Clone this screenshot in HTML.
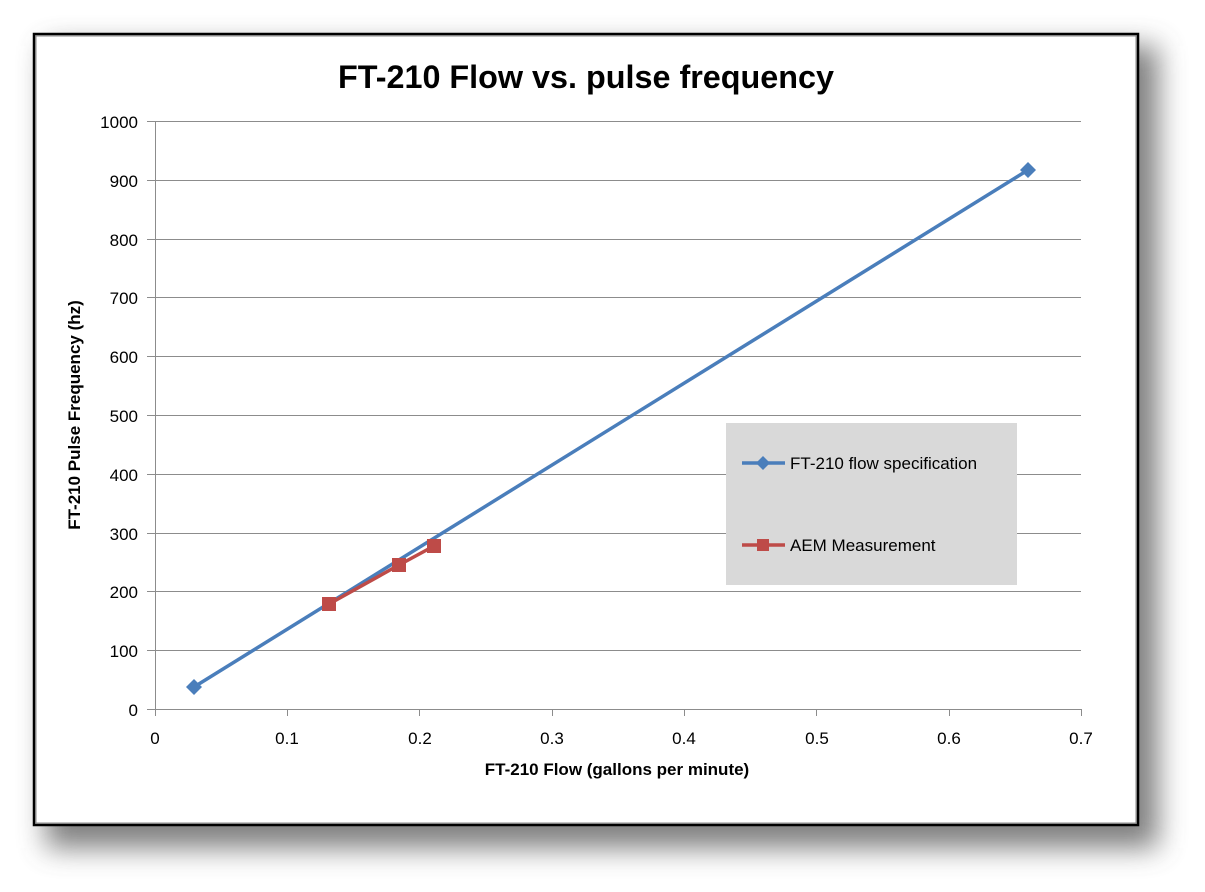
<!DOCTYPE html>
<html><head><style>
body{margin:0;background:#fff;}
svg{display:block;font-family:"Liberation Sans",Calibri,sans-serif;}
</style></head><body>
<svg width="1205" height="892" xmlns="http://www.w3.org/2000/svg">
<defs>
<filter id="sh" x="-10%" y="-10%" width="130%" height="130%"><feGaussianBlur stdDeviation="14"/></filter>
</defs>
<rect x="46" y="46" width="1112" height="802" fill="#555" filter="url(#sh)" opacity="0.75"/>
<rect x="34" y="34" width="1104" height="791" fill="#fff" stroke="#000" stroke-width="2.5"/>
<rect x="36" y="36" width="1100" height="787" fill="none" stroke="#888" stroke-width="1"/>
<text x="586" y="88" font-size="32" font-weight="bold" text-anchor="middle" textLength="496" lengthAdjust="spacingAndGlyphs">FT-210 Flow vs. pulse frequency</text>
<g stroke="#8c8c8c" stroke-width="1">
<line x1="147" y1="121.5" x2="1081" y2="121.5"/>
<line x1="147" y1="180.5" x2="1081" y2="180.5"/>
<line x1="147" y1="239.5" x2="1081" y2="239.5"/>
<line x1="147" y1="297.5" x2="1081" y2="297.5"/>
<line x1="147" y1="356.5" x2="1081" y2="356.5"/>
<line x1="147" y1="415.5" x2="1081" y2="415.5"/>
<line x1="147" y1="474.5" x2="1081" y2="474.5"/>
<line x1="147" y1="533.5" x2="1081" y2="533.5"/>
<line x1="147" y1="591.5" x2="1081" y2="591.5"/>
<line x1="147" y1="650.5" x2="1081" y2="650.5"/>
<line x1="147" y1="709.5" x2="1081" y2="709.5"/>
<line x1="155.5" y1="121" x2="155.5" y2="709"/>
<line x1="155.5" y1="709" x2="155.5" y2="716"/>
<line x1="287.5" y1="709" x2="287.5" y2="716"/>
<line x1="419.5" y1="709" x2="419.5" y2="716"/>
<line x1="552.5" y1="709" x2="552.5" y2="716"/>
<line x1="684.5" y1="709" x2="684.5" y2="716"/>
<line x1="816.5" y1="709" x2="816.5" y2="716"/>
<line x1="949.5" y1="709" x2="949.5" y2="716"/>
<line x1="1081.5" y1="709" x2="1081.5" y2="716"/>
</g>
<g font-size="17" text-anchor="end">
<text x="138" y="128">1000</text><text x="138" y="187">900</text><text x="138" y="246">800</text>
<text x="138" y="304">700</text><text x="138" y="363">600</text><text x="138" y="422">500</text>
<text x="138" y="481">400</text><text x="138" y="540">300</text><text x="138" y="598">200</text>
<text x="138" y="657">100</text><text x="138" y="716">0</text>
</g>
<g font-size="17" text-anchor="middle">
<text x="155" y="744">0</text><text x="287" y="744">0.1</text><text x="420" y="744">0.2</text>
<text x="552" y="744">0.3</text><text x="684" y="744">0.4</text><text x="817" y="744">0.5</text>
<text x="949" y="744">0.6</text><text x="1081" y="744">0.7</text>
</g>
<text x="617" y="775" font-size="17" font-weight="bold" text-anchor="middle">FT-210 Flow (gallons per minute)</text>
<text transform="translate(80,415) rotate(-90)" font-size="17" font-weight="bold" text-anchor="middle">FT-210 Pulse Frequency (hz)</text>
<line x1="194" y1="687" x2="1028" y2="170" stroke="#4a7ebb" stroke-width="3.5"/>
<polygon points="194,679 202,687 194,695 186,687" fill="#4a7ebb"/>
<polygon points="1028,162 1036,170 1028,178 1020,170" fill="#4a7ebb"/>
<polyline points="329,604 399,565 434,546" fill="none" stroke="#be4b48" stroke-width="3.5"/>
<rect x="322" y="597" width="14" height="14" fill="#be4b48"/>
<rect x="392" y="558" width="14" height="14" fill="#be4b48"/>
<rect x="427" y="539" width="14" height="14" fill="#be4b48"/>
<rect x="726" y="423" width="291" height="162" fill="#d9d9d9"/>
<line x1="742" y1="463" x2="785" y2="463" stroke="#4a7ebb" stroke-width="3.5"/>
<polygon points="763,456 770,463 763,470 756,463" fill="#4a7ebb"/>
<text x="790" y="469" font-size="17">FT-210 flow specification</text>
<line x1="742" y1="545" x2="785" y2="545" stroke="#be4b48" stroke-width="3.5"/>
<rect x="757" y="539" width="12" height="12" fill="#be4b48"/>
<text x="790" y="551" font-size="17">AEM Measurement</text>
</svg>
</body></html>
